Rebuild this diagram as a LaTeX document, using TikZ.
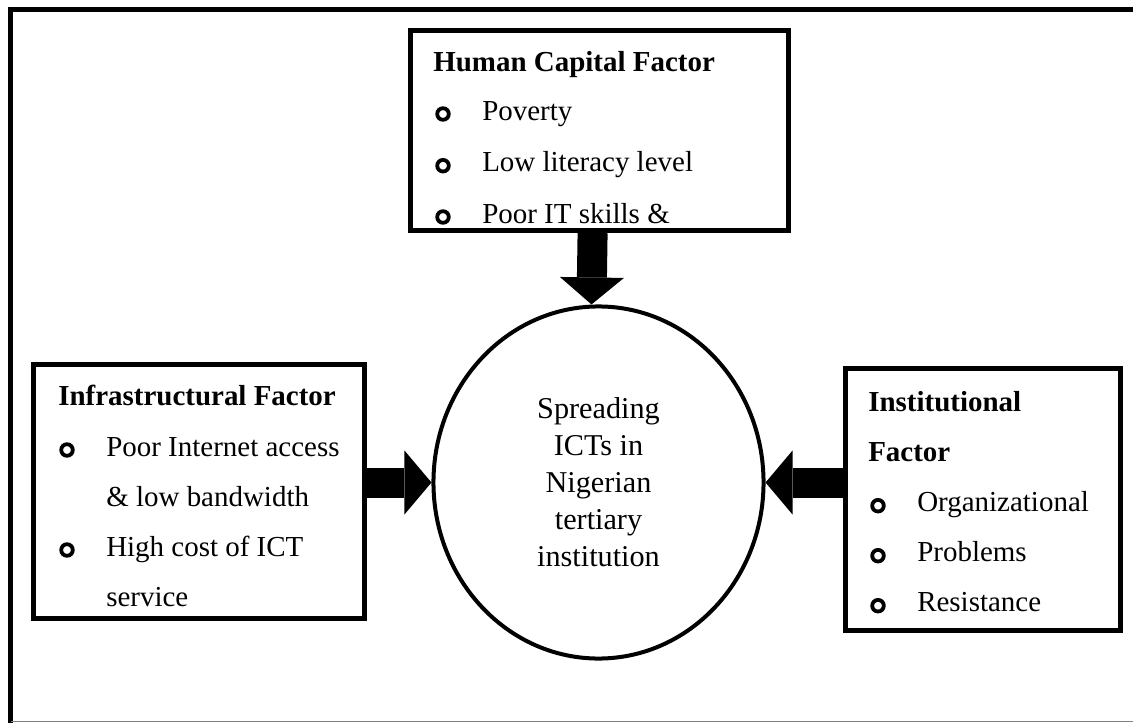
\documentclass[tikz,border=0pt]{standalone}
\usepackage{fontspec}
\setmainfont{Liberation Serif}
\usetikzlibrary{arrows.meta,shapes.geometric}
\newcommand{\drawthick}{\draw[line width=0.12cm]}
\newcommand{\factortitle}[4]{\node[titletext] (#1) at (#2,#3) {#4};}
\newcommand{\factoritem}[4]{
    \draw[ring] (#2-39,#3-6) circle (0.145cm);
    \node[itemtext] (#1) at (#2,#3) {#4};
}

\begin{document}
\begin{tikzpicture}[x=0.025cm,y=-0.025cm,
    every node/.style={font=\fontsize{20.6}{26}\selectfont},
    factorbox/.style={draw,line width=0.125cm,inner sep=0},
    titletext/.style={anchor=base west,inner sep=0,font=\fontsize{20.6}{26}\selectfont\bfseries},
    itemtext/.style={anchor=base west,inner sep=0},
    ring/.style={line width=0.095cm},
    bigarrow/.style={line width=0.75cm,-{Triangle[width=1.6cm,length=0.675cm,line width=0pt]}}]
\useasboundingbox (0,0) rectangle (1133,723);
\drawthick (1133,9.5) -- (10.5,9.5) -- (10.5,723);
\draw[gray,line width=0.04cm] (10.5,721.5) -- (1133,721.5);
\node[factorbox,minimum width=9.45cm,minimum height=5cm] (hcf) at (599.6,130.5) {};
\node[factorbox,minimum width=8.25cm,minimum height=6.36cm] (inf) at (199,491.75) {};
\node[factorbox,minimum width=6.875cm,minimum height=6.54cm] (inst) at (983,499.75) {};
\node[draw,ellipse,line width=0.1cm,minimum width=8.25cm,minimum height=8.8cm,inner sep=0,align=center,
    font=\fontsize{21.5}{26.3}\selectfont] (ict) at (598.5,482.5) {Spreading\\ICTs in\\Nigerian\\tertiary\\institution};
\draw[bigarrow] ([xshift=-0.175cm]hcf.south) -- ([xshift=-0.175cm]ict.north);
\draw[bigarrow] (inf.east |- ict.west) -- (ict.west);
\draw[bigarrow] (inst.west |- ict.east) -- (ict.east);
\factortitle{hcf-t}{433}{71.7}{Human Capital Factor}
\factoritem{hcf-1}{482}{120}{Poverty}
\factoritem{hcf-2}{482}{171.7}{Low literacy level}
\factoritem{hcf-3}{482}{223}{Poor IT skills \&}
\factortitle{inf-t}{58}{405}{Infrastructural Factor}
\factoritem{inf-1}{106}{456}{Poor Internet access}
\node[itemtext] (inf-1b) at (106,506) {\& low bandwidth};
\factoritem{inf-2}{106}{556}{High cost of ICT}
\node[itemtext] (inf-2b) at (106,606) {service};
\factortitle{inst-t}{868}{411}{Institutional}
\node[titletext] (inst-tb) at (868,461) {Factor};
\factoritem{inst-1}{917}{511.7}{Organizational}
\factoritem{inst-2}{917}{561.7}{Problems}
\factoritem{inst-3}{917}{611.7}{Resistance}
\end{tikzpicture}
\end{document}
